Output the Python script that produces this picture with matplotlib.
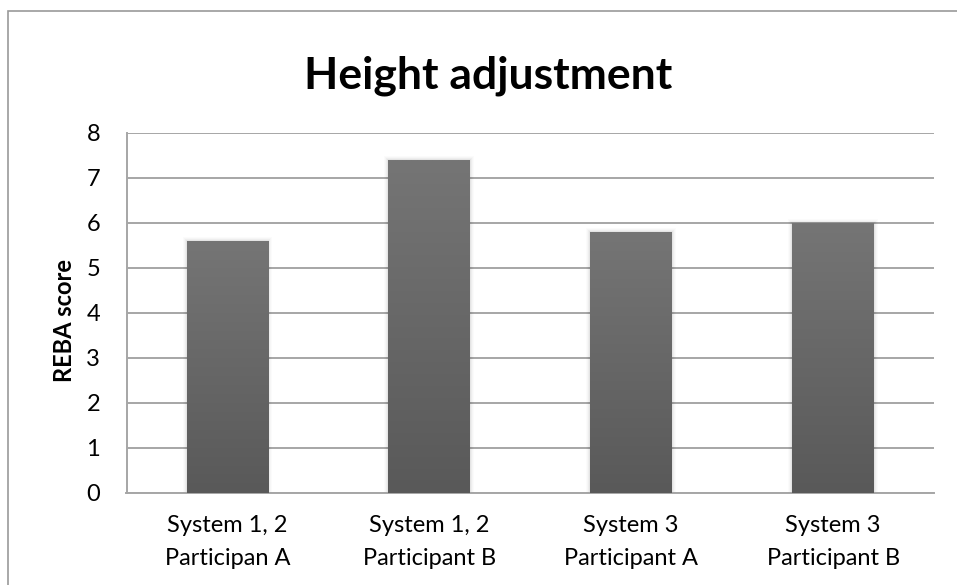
import numpy as np
import matplotlib
matplotlib.use("Agg")
import matplotlib.pyplot as plt
from matplotlib.colors import LinearSegmentedColormap
from matplotlib.patches import Rectangle

categories = ["System 1, 2\nParticipan A", "System 1, 2\nParticipant B",
              "System 3\nParticipant A", "System 3\nParticipant B"]
scores = [5.6, 7.4, 5.8, 6.0]
y_ticks = [0, 1, 2, 3, 4, 5, 6, 7, 8]

plt.rcParams["font.family"] = ["Lato", "DejaVu Sans"]

W, H = 957, 585
fig = plt.figure(figsize=(W / 100, H / 100), dpi=100)
fig.patch.set_facecolor("white")

# outer chart frame
fig.add_artist(Rectangle((8 / W, -0.01), 1.05, 1 - 11 / H + 0.01,
                         transform=fig.transFigure, fill=False,
                         edgecolor="#9a9a9a", linewidth=1.2))

ax = fig.add_axes([126.5 / W, 1 - 492.7 / H, (934 - 126.5) / W, (492.7 - 132.7) / H])
x = np.arange(len(categories))
width = 0.405

ax.set_xlim(-0.5, len(categories) - 0.5)
ax.set_ylim(0, 8)
ax.set_yticks(y_ticks)
ax.set_xticks(x)
ax.set_xticklabels(categories, fontsize=17, linespacing=1.7)
ax.tick_params(axis="y", labelsize=17, length=0, pad=19)
ax.tick_params(axis="x", length=0, pad=16)

ax.yaxis.grid(True, color="#a6a6a6", linewidth=1.4)
ax.set_axisbelow(True)
for s in ["top", "right"]:
    ax.spines[s].set_visible(False)
ax.spines["left"].set_color("#a6a6a6")
ax.spines["left"].set_linewidth(1.4)
ax.spines["bottom"].set_color("#a6a6a6")
ax.spines["bottom"].set_linewidth(1.4)

cmap = LinearSegmentedColormap.from_list("bar", ["#595959", "#757575"])
grad = np.linspace(0, 1, 256).reshape(-1, 1)

bars = ax.bar(x, scores, width=width, color="#666666", zorder=3)
for b in bars:
    x0, y0 = b.get_x(), b.get_y()
    w, h = b.get_width(), b.get_height()
    # soft shadow around the bar
    for i, a in enumerate([0.04, 0.03, 0.02, 0.015]):
        d = 0.005 * (i + 1)
        ax.add_patch(Rectangle((x0 - d, y0), w + 2 * d, h + d * 4,
                               facecolor="black", alpha=a, edgecolor="none", zorder=2))
    im = ax.imshow(grad, cmap=cmap, aspect="auto", origin="lower",
                   extent=[x0, x0 + w, y0, y0 + h], zorder=4)
    im.set_clip_path(b)

fig.text(65 / W, 1 - 320 / H, "REBA score", rotation=90, ha="center", va="center",
         fontsize=17, fontweight="bold")

fig.text(488 / W, 1 - 76 / H, "Height adjustment", ha="center", va="center",
         fontsize=32, fontweight="bold")

fig.savefig("out.png", dpi=100)
